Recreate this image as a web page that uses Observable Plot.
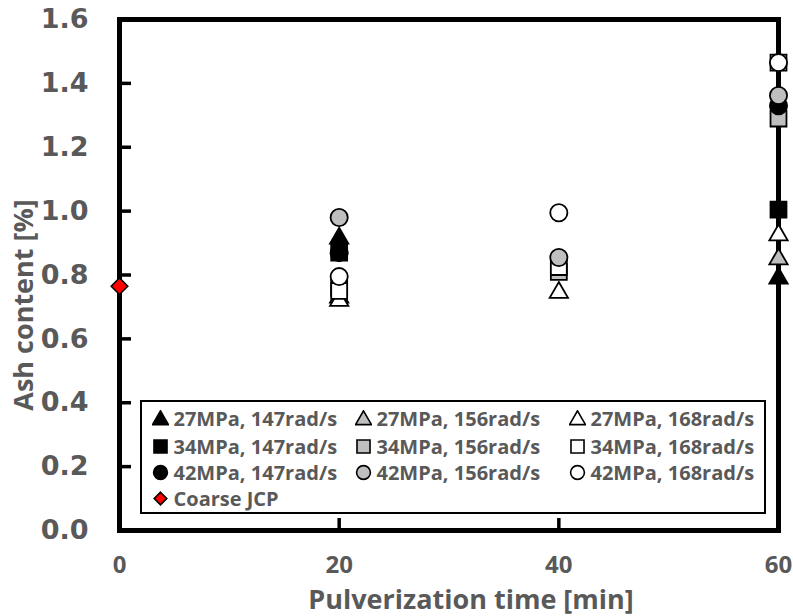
<!DOCTYPE html>
<html><head><meta charset="utf-8">
<script src="https://cdn.jsdelivr.net/npm/d3@7"></script>
<script src="https://cdn.jsdelivr.net/npm/@observablehq/plot@0.6"></script>
<style>
body{margin:0;background:#fff;}
#wrap{position:relative;width:793px;height:616px;overflow:hidden;}
#legendBox{position:absolute;left:140px;top:400px;width:626px;height:114px;border:2.5px solid #000;box-sizing:border-box;background:#fff;}
.item{position:absolute;height:26px;display:flex;align-items:center;white-space:nowrap;font-family:"Open Sans",sans-serif;font-weight:700;font-size:20px;color:#595959;}
.item svg{flex:none;margin-right:5px;}
</style></head>
<body><div id="wrap"></div>
<script>
// ---- data ----
const times = [20, 40, 60];
const seriesNames = [
  "27MPa, 147rad/s", "27MPa, 156rad/s", "27MPa, 168rad/s",
  "34MPa, 147rad/s", "34MPa, 156rad/s", "34MPa, 168rad/s",
  "42MPa, 147rad/s", "42MPa, 156rad/s", "42MPa, 168rad/s"
];
const s27_147 = [0.915, null, 0.79];
const s27_156 = [0.73, null, 0.85];
const s27_168 = [0.72, 0.745, 0.925];
const s34_147 = [0.87, null, 1.005];
const s34_156 = [0.76, 0.81, 1.29];
const s34_168 = [0.75, 0.825, 1.465];
const s42_147 = [0.87, null, 1.33];
const s42_156 = [0.98, 0.855, 1.362];
const s42_168 = [0.795, 0.995, 1.465];
const coarseName = "Coarse JCP";
const coarseTime = [0];
const coarseValue = [0.765];
const yTicks = [0, 0.2, 0.4, 0.6, 0.8, 1.0, 1.2, 1.4, 1.6];
const xTicks = [0, 20, 40, 60];
const xTitle = "Pulverization time [min]";
const yTitle = "Ash content [%]";

// ---- styles ----
const seriesValues = [s27_147, s27_156, s27_168, s34_147, s34_156, s34_168, s42_147, s42_156, s42_168];
const shapeOf = i => ["triangle", "square", "circle"][Math.floor(i / 3)];
const fillOf = i => ["#000000", "#bfbfbf", "#ffffff"][i % 3];
const rOf = {triangle: 6.8, square: 9, circle: 8.6};
const gray = "#595959";

const dotMarks = seriesValues.map((vals, i) => {
  const rows = times.map((t, j) => ({t, v: vals[j]})).filter(d => d.v != null);
  return Plot.dot(rows, {x: "t", y: "v", symbol: shapeOf(i), r: rOf[shapeOf(i)],
    fill: fillOf(i), stroke: "#000", strokeWidth: 1.8});
});
const coarseRows = coarseTime.map((t, j) => ({t, v: coarseValue[j]}));

const chart = Plot.plot({
  width: 793, height: 616,
  marginLeft: 119, marginRight: 15, marginTop: 19, marginBottom: 86,
  x: {domain: [0, 60]},
  y: {domain: [0, 1.6]},
  style: {background: "transparent", overflow: "visible"},
  marks: [
    Plot.axisY(yTicks.slice(1, -1), {tickSize: -12, fill: "none", stroke: "#000", strokeWidth: 3.5, label: null}),
    Plot.axisX([20, 40], {tickSize: -12, fill: "none", stroke: "#000", strokeWidth: 3.5, label: null}),
    Plot.axisY(yTicks, {tickSize: 0, tickPadding: 31, tickFormat: d3.format(".1f"), fontSize: 27,
      fontWeight: "bold", fontFamily: "DejaVu Sans", fill: gray, label: null}),
    Plot.axisX(xTicks, {tickSize: 0, tickPadding: 25, fontSize: 24, fontWeight: "bold",
      fontFamily: "Open Sans", fill: gray, label: null}),
    Plot.text([xTitle], {frameAnchor: "bottom", dy: 78, dx: 22, fontSize: 27, fontWeight: "bold",
      fontFamily: "Open Sans", fill: gray}),
    Plot.text([yTitle], {frameAnchor: "left", textAnchor: "middle", rotate: -90, dx: -95, dy: 30, fontSize: 27, fontWeight: "bold",
      fontFamily: "Open Sans", fill: gray}),
    Plot.frame({stroke: "#000", strokeWidth: 5}),
    ...dotMarks,
    Plot.dot(coarseRows, {x: "t", y: "v", symbol: "diamond2", r: 7.5, fill: "#ff0000", stroke: "#000", strokeWidth: 1.5})
  ]
});
const wrap = document.getElementById("wrap");
wrap.appendChild(chart);

// ---- legend (HTML overlay inside plot area) ----
const box = document.createElement("div");
box.id = "legendBox";
wrap.appendChild(box);
const colX = [160, 363, 577];
const rowY = [418, 446, 472, 498];
function symSvg(shape, fill, size) {
  const s = 17;
  const typ = {triangle: d3.symbolTriangle, square: d3.symbolSquare, circle: d3.symbolCircle, diamond: d3.symbolDiamond2}[shape];
  const p = d3.symbol(typ, size)();
  return `<svg width="${s}" height="${s}" viewBox="${-s/2} ${-s/2} ${s} ${s}"><path d="${p}" transform="${shape==='triangle'?'translate(0,1.5)':''}" fill="${fill}" stroke="#000" stroke-width="1.6"/></svg>`;
}
const legSize = {triangle: 110, square: 170, circle: 150, diamond: 100};
seriesNames.forEach((name, i) => {
  const el = document.createElement("div");
  el.className = "item";
  el.style.left = (colX[i % 3] - 8.5) + "px";
  el.style.top = (rowY[Math.floor(i / 3)] - 13) + "px";
  el.innerHTML = symSvg(shapeOf(i), fillOf(i), legSize[shapeOf(i)]) + `<span>${name}</span>`;
  wrap.appendChild(el);
});
const cel = document.createElement("div");
cel.className = "item";
cel.style.left = (colX[0] - 8.5) + "px";
cel.style.top = (rowY[3] - 13) + "px";
cel.innerHTML = symSvg("diamond", "#ff0000", legSize.diamond) + `<span>${coarseName}</span>`;
wrap.appendChild(cel);
</script>
</body></html>
